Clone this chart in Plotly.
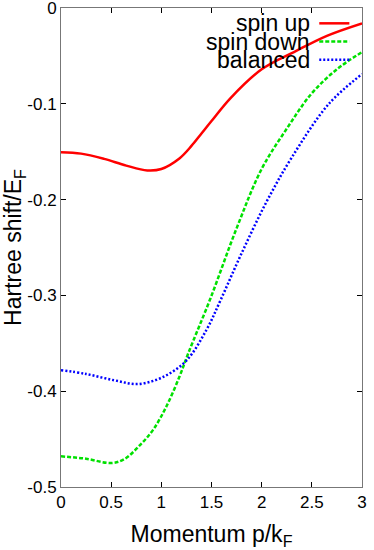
import plotly.graph_objects as go

# momentum p/kF and Hartree shift / EF
p_up = [0, 0.2, 0.43, 0.65, 0.86, 1.0, 1.18, 1.3, 1.4, 1.5, 1.69, 2.0, 2.34, 2.65, 3.0]
spin_up = [-0.1505, -0.152, -0.1575, -0.1645, -0.1695, -0.168, -0.157, -0.144, -0.131,
           -0.118, -0.094, -0.064, -0.045, -0.029, -0.016]

p_down = [0, 0.25, 0.5, 0.63, 0.79, 0.92, 1.05, 1.18, 1.27, 1.49, 1.75, 2.0, 2.25,
          2.5, 2.75, 3.0]
spin_down = [-0.468, -0.4705, -0.475, -0.471, -0.456, -0.440, -0.416, -0.385, -0.360,
             -0.303, -0.230, -0.168, -0.126, -0.089, -0.064, -0.046]

p_bal = [0, 0.25, 0.53, 0.77, 1.02, 1.25, 1.45, 1.59, 1.8, 2.05, 2.3, 2.67, 3.0]
balanced = [-0.378, -0.382, -0.3886, -0.3925, -0.385, -0.368, -0.336, -0.305,
            -0.256, -0.202, -0.156, -0.100, -0.069]

names = ["spin up", "spin down", "balanced"]
colors = ["#ff0000", "#00e000", "#0000ff"]
dashes = ["solid", "4px,2px", "2px,2px"]

fig = go.Figure()
for xs, ys, c, d, n in zip([p_up, p_down, p_bal], [spin_up, spin_down, balanced],
                           colors, dashes, names):
    fig.add_trace(go.Scatter(x=xs, y=ys, mode="lines", name=n,
                             line=dict(color=c, width=2.5, dash=d, shape="spline",
                                       smoothing=1),
                             showlegend=False))

# gnuplot-style key: text on the left, sample line on the right
for i, (n, c, d) in enumerate(zip(names, colors, dashes)):
    yk = 0.968 - i * 0.038
    fig.add_annotation(xref="paper", yref="paper", x=0.835, y=yk, text=n,
                       showarrow=False, xanchor="right", yanchor="middle",
                       font=dict(size=23, color="black"))
    fig.add_shape(type="line", xref="paper", yref="paper", x0=0.858, x1=0.958,
                  y0=yk, y1=yk, line=dict(color=c, width=2.5, dash=d))

axis = dict(showline=True, linecolor="#777777", linewidth=1, mirror="ticks",
            ticks="inside", ticklen=5, tickcolor="black", showgrid=False,
            zeroline=False, ticklabeloverflow="allow",
            tickfont=dict(size=17, color="black"))

fig.update_layout(
    width=374, height=550,
    margin=dict(l=61, r=7, t=7, b=62),
    plot_bgcolor="white", paper_bgcolor="white",
    font=dict(family="Liberation Sans, Arial, sans-serif", color="black"),
    xaxis=dict(axis, range=[0, 3], tickvals=[0, 0.5, 1, 1.5, 2, 2.5, 3],
               ticktext=["0", "0.5", "1", "1.5", "2", "2.5", "3"],
               title=dict(text="Momentum p/k<sub>F</sub>", font=dict(size=23), standoff=14)),
    yaxis=dict(axis, range=[-0.5, 0], tickvals=[-0.5, -0.4, -0.3, -0.2, -0.1, 0],
               ticktext=["-0.5", "-0.4", "-0.3", "-0.2", "-0.1", "0"],
               automargin=False,
               title=dict(text="Hartree shift/E<sub>F</sub>", font=dict(size=23), standoff=8)),
)

fig.write_html("out.html", config={"displayModeBar": False},
               post_script="document.body.style.margin='0';")
